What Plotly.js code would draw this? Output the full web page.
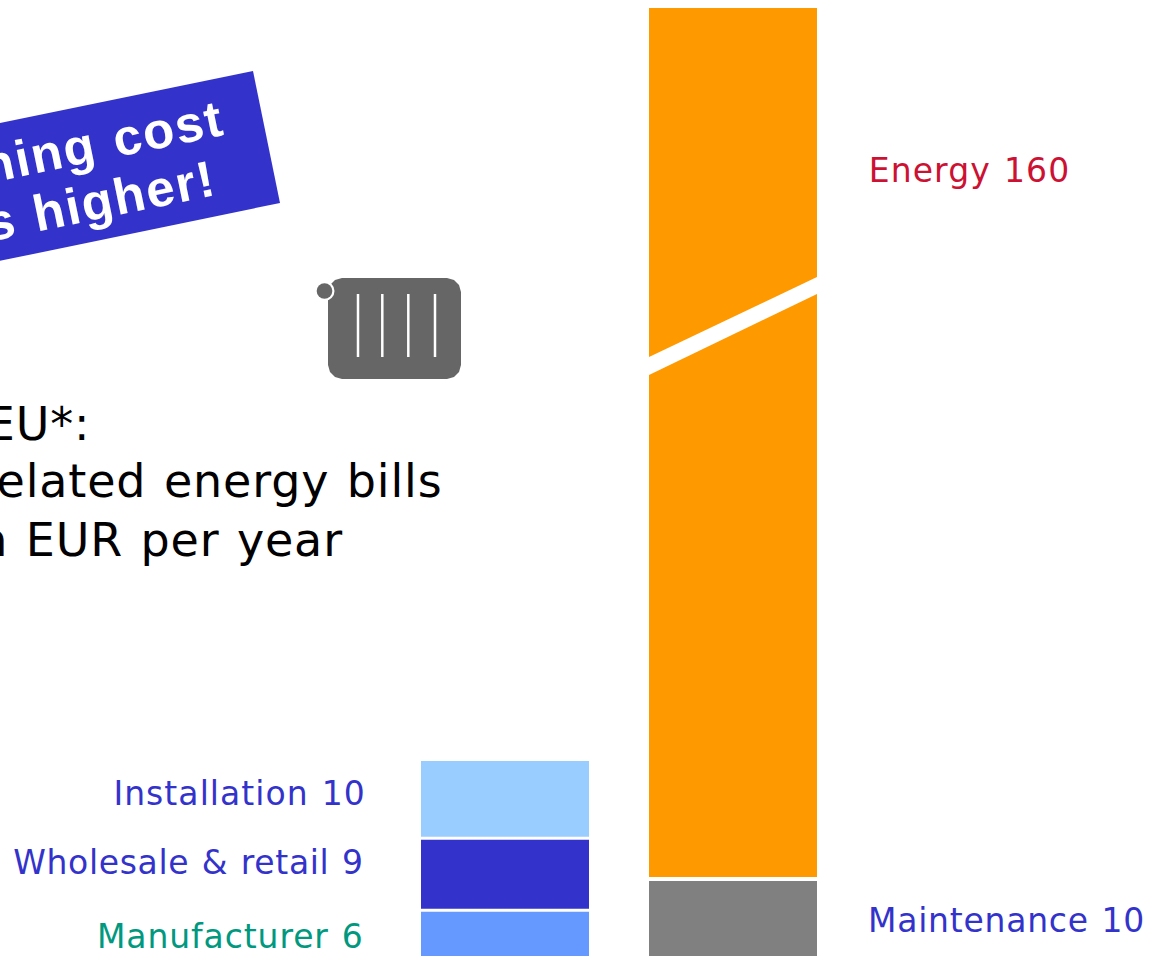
<!DOCTYPE html>
<html>
<head>
<meta charset="utf-8">
<script src="https://cdn.plot.ly/plotly-3.0.1.min.js"></script>
<style>
html,body{margin:0;padding:0;background:#fff;overflow:hidden}
#chart{width:1149px;height:956px}
.annotation text{word-spacing:1.5px}
.annotation[data-index="0"] text{letter-spacing:1.05px}
.annotation[data-index="1"] text{letter-spacing:0.65px}
.annotation[data-index="2"] text{letter-spacing:0.9px}
.annotation[data-index="3"] text{letter-spacing:0.75px}
.annotation[data-index="4"] text{letter-spacing:1.1px}
.annotation[data-index="5"] text,.annotation[data-index="6"] text,.annotation[data-index="7"] text{letter-spacing:0.85px;word-spacing:2px}
.annotation[data-index="8"] text,.annotation[data-index="9"] text{letter-spacing:1.8px;word-spacing:2px}
</style>
</head>
<body>
<div id="chart"></div>
<script>
var categories = ["Purchase", "Running"];
var manufacturer = [5.85, 0];
var wholesale = [9.25, 0];
var installation = [9.95, 0];
var maintenance = [0, 9.87];
var energy = [0, 160];

var labelTexts = ["Installation 10", "Wholesale & retail 9", "Manufacturer 6", "Maintenance 10", "Energy 160"];
var bannerLines = ["Running cost", "is higher!"];
var headingLines = ["In the EU*:", "Heating-related energy bills", "in EUR per year"];

var W = 1149, H = 956, TOP = 8;
var px = function (x) { return x / W; };
var py = function (y) { return (H - y) / (H - TOP); };
function poly(points) {
  return points.map(function (p, i) { return (i ? "L" : "M") + p[0] + "," + p[1]; }).join(" ") + " Z";
}
function paperPoly(points, color) {
  return { type: "path", xref: "paper", yref: "paper", layer: "above", line: { width: 0 }, fillcolor: color,
    path: poly(points.map(function (p) { return [px(p[0]), py(p[1])]; })) };
}
function paperLine(x0, y0, x1, y1, color, width) {
  return { type: "line", xref: "paper", yref: "paper", layer: "above", x0: px(x0), y0: py(y0), x1: px(x1), y1: py(y1), line: { color: color, width: width } };
}
function gapLine(cat, yv, width) {
  return { type: "line", xref: "x", yref: "y", layer: "above", x0: cat - 0.45, x1: cat + 0.45, y0: yv, y1: yv, line: { color: "#fff", width: width } };
}
function bar(name, values, color) {
  return { type: "bar", name: name, x: categories, y: values, width: 168 / 228, marker: { color: color, line: { width: 0 } }, hoverinfo: "name+y" };
}

var data = [
  bar("Manufacturer", manufacturer, "#6699FF"),
  bar("Wholesale & retail", wholesale, "#3333CC"),
  bar("Installation", installation, "#99CCFF"),
  bar("Maintenance", maintenance, "#808080"),
  bar("Energy", energy, "#FF9900")
];

var radiatorBody = (function () {
  var l = 328, r = 461, t = 278, b = 379, c = 14;
  return [[l + c, t], [r - c, t], [r - 7, t + 2], [r - 2, t + 7], [r, t + c], [r, b - c], [r - 2, b - 7], [r - 7, b - 2], [r - c, b],
          [l + c, b], [l + 7, b - 2], [l + 2, b - 7], [l, b - c], [l, t + c], [l + 2, t + 7], [l + 7, t + 2]];
})();

var shapes = [
  gapLine(0, manufacturer[0], 3),
  gapLine(0, manufacturer[0] + wholesale[0], 3),
  gapLine(1, maintenance[1], 4),
  paperPoly([[649, 357], [817, 277], [817, 294], [649, 375]], "#fff"),
  paperPoly([[-20, 127], [253, 71], [280, 203], [-20, 265]], "#3333CC"),
  paperPoly(radiatorBody, "#666666"),
  { type: "circle", xref: "paper", yref: "paper", layer: "above", x0: px(314.5), x1: px(334.5), y0: py(301), y1: py(281), fillcolor: "#fff", line: { width: 0 } },
  { type: "circle", xref: "paper", yref: "paper", layer: "above", x0: px(316.7), x1: px(332.3), y0: py(298.8), y1: py(283.2), fillcolor: "#666666", line: { width: 0 } },
  paperLine(358, 294, 358, 357, "#fff", 2.5),
  paperLine(382.3, 294, 382.3, 357, "#fff", 2.5),
  paperLine(408.3, 294, 408.3, 357, "#fff", 2.5),
  paperLine(435, 294, 435, 357, "#fff", 2.5)
];

function note(text, x, y, anchor, size, color, extra) {
  var a = { text: text, xref: "paper", yref: "paper", x: px(x), y: py(y), xanchor: anchor, yanchor: "middle", showarrow: false,
    font: { family: "DejaVu Sans, Verdana, sans-serif", size: size, color: color }, borderpad: 0, borderwidth: 0 };
  for (var k in (extra || {})) a[k] = extra[k];
  return a;
}
var bannerFont = { family: "Liberation Sans, Arial, sans-serif", size: 51, color: "#fff", weight: "bold" };
var annotations = [
  note(labelTexts[0], 357, 793, "right", 33, "#3333CC"),
  note(labelTexts[1], 355, 862, "right", 33, "#3333CC"),
  note(labelTexts[2], 357, 936, "right", 33, "#009980"),
  note(labelTexts[3], 874, 920, "left", 33, "#3333CC"),
  note(labelTexts[4], 875, 171, "left", 33, "#CC1133"),
  note(headingLines[0], 84, 424, "right", 46, "#000"),
  note(headingLines[1], 429, 481, "right", 46, "#000"),
  note(headingLines[2], 334, 540, "right", 46, "#000"),
  note("<b>" + bannerLines[0] + "</b>", 217, 153, "right", 52, "#fff", { textangle: -11.6, font: bannerFont }),
  note("<b>" + bannerLines[1] + "</b>", 211, 202, "right", 52, "#fff", { textangle: -11.6, font: bannerFont })
];

var layout = {
  width: W, height: H, barmode: "stack", showlegend: false, paper_bgcolor: "#fff", plot_bgcolor: "#fff",
  margin: { l: 0, r: 0, t: TOP, b: 0, pad: 0 }, bargap: 0,
  xaxis: { type: "category", range: [-505 / 228, (W - 505) / 228], visible: false, fixedrange: true },
  yaxis: { range: [0, (H - TOP) / 7.8], visible: false, fixedrange: true },
  shapes: shapes, annotations: annotations
};
Plotly.newPlot("chart", data, layout, { displayModeBar: false, staticPlot: true });
</script>
</body>
</html>
